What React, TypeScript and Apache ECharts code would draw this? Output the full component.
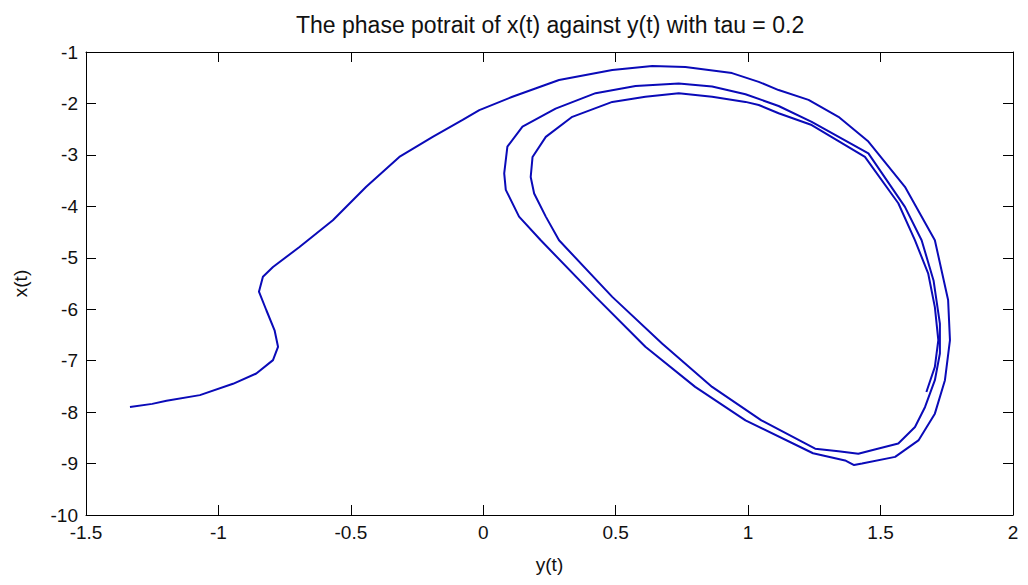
import React, { useEffect, useRef } from "react";
import * as echarts from "echarts";

// Each point is [y(t), x(t)]
const transient: number[][] = [
  [-1.334, -7.9], [-1.25, -7.84], [-1.196, -7.78], [-1.07, -7.67], [-0.945, -7.45],
  [-0.857, -7.25], [-0.794, -6.99], [-0.775, -6.73], [-0.788, -6.41], [-0.819, -6.02],
  [-0.847, -5.66], [-0.832, -5.37], [-0.794, -5.18], [-0.694, -4.79], [-0.568, -4.27],
  [-0.442, -3.62], [-0.317, -3.04], [-0.191, -2.65], [-0.078, -2.32], [-0.015, -2.13],
  [0.11, -1.87], [0.286, -1.545], [0.487, -1.35], [0.638, -1.27], [0.763, -1.29],
];
const loop1: number[][] = [
  [0.939, -1.41], [1.04, -1.58], [1.115, -1.74], [1.228, -1.93], [1.341, -2.26],
  [1.454, -2.74], [1.592, -3.62], [1.705, -4.66], [1.755, -5.82], [1.762, -6.6],
  [1.743, -7.38], [1.705, -8.03], [1.643, -8.55], [1.555, -8.87], [1.43, -9.0],
  [1.4, -9.03], [1.366, -8.94], [1.245, -8.8], [0.99, -8.16], [0.8, -7.51],
  [0.612, -6.73], [0.424, -5.76], [0.217, -4.66], [0.135, -4.2], [0.085, -3.68],
  [0.079, -3.36], [0.091, -2.84], [0.148, -2.45], [0.273, -2.1], [0.424, -1.8],
  [0.575, -1.66], [0.738, -1.61], [0.864, -1.67],
];
const loop2: number[][] = [
  [0.99, -1.82], [1.115, -2.05], [1.24, -2.36], [1.454, -2.97], [1.592, -4.01],
  [1.655, -4.66], [1.7, -5.44], [1.724, -6.28], [1.724, -6.86], [1.705, -7.38],
  [1.668, -7.9], [1.63, -8.29], [1.567, -8.61], [1.467, -8.74], [1.416, -8.81],
  [1.341, -8.76], [1.253, -8.71], [1.05, -8.16], [0.864, -7.51], [0.676, -6.67],
  [0.487, -5.76], [0.286, -4.66], [0.236, -4.2], [0.192, -3.75], [0.179, -3.43],
  [0.186, -3.04], [0.236, -2.65], [0.336, -2.26], [0.487, -1.97], [0.612, -1.87],
  [0.738, -1.8], [0.864, -1.87],
];
const loop3: number[][] = [
  [0.99, -1.97], [1.04, -2.03], [1.115, -2.19], [1.24, -2.42], [1.441, -3.04],
  [1.567, -3.94], [1.63, -4.66], [1.68, -5.31], [1.705, -5.96], [1.718, -6.6],
  [1.705, -7.12], [1.673, -7.61],
];

const titleText = "The phase potrait of x(t) against y(t) with tau = 0.2";
const xName = "y(t)";
const yName = "x(t)";

export default function App() {
  const ref = useRef<HTMLDivElement>(null);
  useEffect(() => {
    if (!ref.current) return;
    const chart = echarts.init(ref.current, undefined, { renderer: "svg" });
    const font = "Liberation Sans, Arial, sans-serif";
    const axisCommon = {
      axisLine: { show: true, onZero: false, lineStyle: { color: "#000", width: 1 } },
      axisTick: { show: true, inside: true, length: 10, lineStyle: { color: "#000", width: 1 } },
      splitLine: { show: false },
    };
    const xBase = { type: "value", min: -1.5, max: 2, interval: 0.5 };
    const yBase = { type: "value", min: -10, max: -1, interval: 1 };
    chart.setOption({
      animation: false,
      backgroundColor: "#fff",
      title: {
        text: titleText,
        left: 296,
        top: 13,
        padding: 0,
        textStyle: { fontSize: 23, fontWeight: "normal", color: "#111", fontFamily: font },
      },
      grid: { left: 86, right: 15, top: 52, bottom: 70 },
      xAxis: [
        {
          ...xBase,
          ...axisCommon,
          position: "bottom",
          name: xName,
          nameLocation: "middle",
          nameGap: 40,
          nameTextStyle: { fontSize: 19, color: "#111", fontFamily: font },
          axisLabel: { fontSize: 19, color: "#111", fontFamily: font, margin: 8 },
        },
        {
          ...xBase,
          ...axisCommon,
          position: "top",
          axisLabel: { show: false },
        },
      ],
      yAxis: [
        {
          ...yBase,
          ...axisCommon,
          position: "left",
          name: yName,
          nameLocation: "middle",
          nameGap: 56,
          nameTextStyle: { fontSize: 19, color: "#111", fontFamily: font },
          axisLabel: { fontSize: 19, color: "#111", fontFamily: font, margin: 8 },
        },
        {
          ...yBase,
          ...axisCommon,
          position: "right",
          axisLabel: { show: false },
        },
      ],
      series: [
        {
          type: "line",
          data: [...transient, ...loop1, ...loop2, ...loop3],
          showSymbol: false,
          symbol: "none",
          smooth: false,
          lineStyle: { color: "#0a0ab8", width: 2 },
        },
      ],
    });
    return () => chart.dispose();
  }, []);
  return (
    <div
      ref={ref}
      style={{ position: "fixed", left: 0, top: 0, width: 1028, height: 585, background: "#fff" }}
    />
  );
}
